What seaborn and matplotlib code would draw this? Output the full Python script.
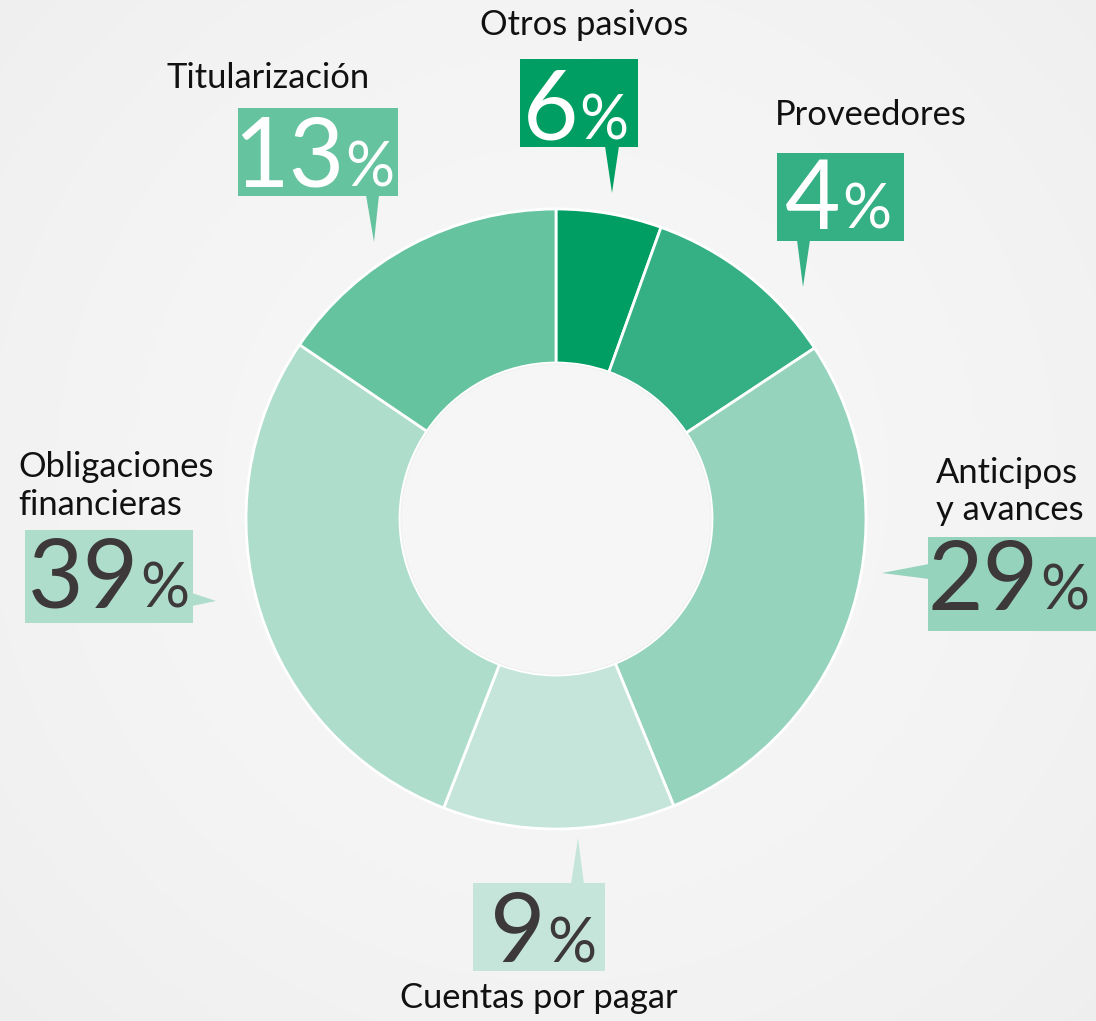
import numpy as np
import matplotlib
matplotlib.use("Agg")
import matplotlib.pyplot as plt
from matplotlib.patches import Rectangle, Polygon, Circle
import seaborn as sns

# ---------------- data ----------------
categories = ["Otros pasivos", "Proveedores", "Anticipos\ny avances",
              "Cuentas por pagar", "Obligaciones\nfinancieras", "Titularización"]
# slice sizes as drawn in the picture (share of the ring, %)
slice_shares = [5.5, 10.2, 28.1, 12.1, 28.6, 15.5]
# percentages printed in the callouts
label_pct = [6, 4, 29, 9, 39, 13]
slice_colors = ["#009E62", "#35AF84", "#96D3BD", "#C5E5DB", "#AEDDCC", "#66C3A0"]
number_colors = ["white", "white", "#3D393A", "#3D393A", "#3D393A", "white"]

# ---------------- layout (pixels, y measured from top) ----------------
W, H = 1096, 1021
CX, CY, R_OUT, R_IN = 556, 519, 310, 156

layout = [
    dict(box=(520, 59, 638, 147), split=578, base=140,
         ptr=[(605, 146), (619, 146), (612, 193)], tx=584, ty=[35], ha="center"),
    dict(box=(777, 153, 904, 241), split=841, base=229,
         ptr=[(797, 240), (810, 240), (803, 287)], tx=871, ty=[125], ha="center"),
    dict(box=(928, 537, 1100, 631), split=1039, base=610,
         ptr=[(929, 564), (929, 579), (882, 573)], tx=936, ty=[483, 520], ha="left"),
    dict(box=(473, 883, 605, 971), split=546, base=962,
         ptr=[(571, 884), (584, 884), (578, 838)], tx=539, ty=[1008], ha="center"),
    dict(box=(25, 530, 193, 623), split=139, base=608,
         ptr=[(192, 593), (192, 606), (216, 601)], tx=18, ty=[477, 515], ha="left"),
    dict(box=(238, 108, 398, 196), split=344, base=187,
         ptr=[(366, 195), (379, 195), (374, 242)], tx=268, ty=[88], ha="center"),
]

sns.set_theme(style="white")
plt.rcParams["font.family"] = ["Lato", "DejaVu Sans"]

fig = plt.figure(figsize=(W / 100, H / 100), dpi=100)
ax = fig.add_axes([0, 0, 1, 1])

def Y(y):
    return H - y

# radial gradient background
yy, xx = np.mgrid[0:H, 0:W]
d = np.sqrt((xx - CX) ** 2 + (yy - 480) ** 2) / 800.0
bg = 0.968 - 0.035 * np.clip(d, 0, 1.3) ** 1.8
ax.imshow(np.dstack([bg, bg, bg * 1.004]).clip(0, 1), extent=(0, W, 0, H),
          origin="upper", zorder=0, aspect="auto")

# donut
wedges, _ = ax.pie(slice_shares, colors=slice_colors, startangle=90,
                   counterclock=False, center=(CX, Y(CY)), radius=R_OUT,
                   wedgeprops=dict(width=R_OUT - R_IN, edgecolor="white",
                                   linewidth=2.0), frame=False)
for w in wedges:
    w.set_zorder(2)
ax.add_patch(Circle((CX, Y(CY)), R_IN - 1, facecolor="#F6F6F6",
                    edgecolor="#F0F0F0", linewidth=0.8, zorder=3))

# callouts
for cat, pct, col, ncol, L in zip(categories, label_pct, slice_colors,
                                  number_colors, layout):
    x0, y0, x1, y1 = L["box"]
    ax.add_patch(Rectangle((x0, Y(y1)), x1 - x0, y1 - y0, facecolor=col,
                           edgecolor="none", zorder=4))
    ax.add_patch(Polygon([(px, Y(py)) for px, py in L["ptr"]], closed=True,
                         facecolor=col, edgecolor="none", zorder=4))
    ax.text(L["split"], Y(L["base"]), str(pct), ha="right", va="baseline",
            fontsize=69, fontweight=400, color=ncol, zorder=5)
    ax.text(L["split"] + 1, Y(L["base"]), "%", ha="left", va="baseline",
            fontsize=44, fontweight=400, color=ncol, zorder=5)
    for line, ty in zip(cat.split("\n"), L["ty"]):
        ax.text(L["tx"], Y(ty), line, ha=L["ha"], va="baseline",
                fontsize=24.8, color="#111111", zorder=5)

ax.set_xlim(0, W)
ax.set_ylim(0, H)
ax.set_aspect("auto")
ax.axis("off")
fig.savefig("out.png", dpi=100)
